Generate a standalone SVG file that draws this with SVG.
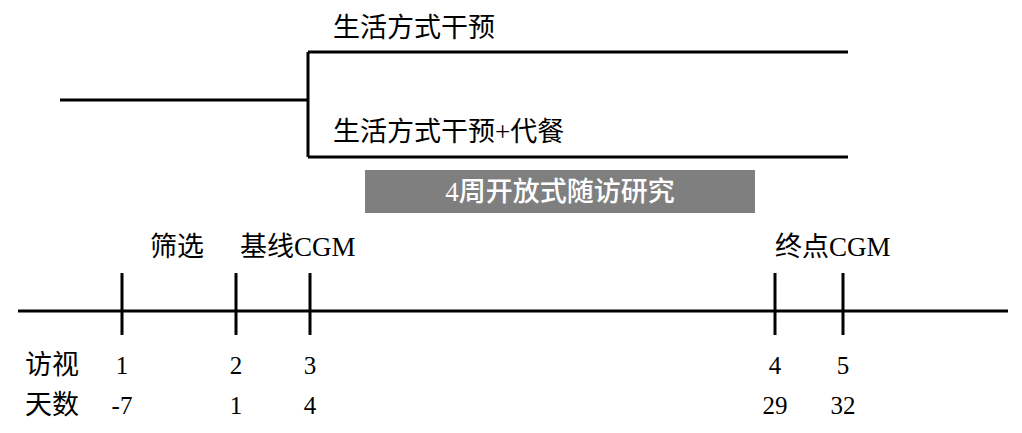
<svg xmlns="http://www.w3.org/2000/svg" width="1022" height="433" viewBox="0 0 1022 433">
<style>
.l{stroke:#000;stroke-width:3;fill:none}
text{font-family:"Liberation Serif","Noto Sans CJK SC",serif;font-size:27px;fill:#000}
.n{font-size:25px}
.m{text-anchor:middle}
</style>
<rect width="1022" height="433" fill="#fff"/>
<g id="connectors">
<path class="l" d="M60 100H308M308 52V157M308 52H848M308 157H848"/>
<path class="l" d="M18 311H1008M122 273V335M236 273V335M310 273V335M775 273V335M843 273V335"/>
</g>
<g id="arm1"><text x="333" y="37">生活方式干预</text></g>
<g id="arm2"><text x="333" y="141">生活方式干预+代餐</text></g>
<g id="followup"><rect x="365" y="170" width="390" height="43" fill="#7f7f7f"/><text x="560" y="201" class="m" style="fill:#fff;font-weight:500">4周开放式随访研究</text></g>
<g id="labels">
<text x="150" y="256">筛选</text>
<text x="240" y="256">基线CGM</text>
<text x="775" y="256">终点CGM</text>
<text x="25" y="374">访视</text>
<text x="25" y="414">天数</text>
<text x="122" y="374" class="m n">1</text>
<text x="236" y="374" class="m n">2</text>
<text x="310" y="374" class="m n">3</text>
<text x="775" y="374" class="m n">4</text>
<text x="843" y="374" class="m n">5</text>
<text x="122" y="414" class="m n">-7</text>
<text x="236" y="414" class="m n">1</text>
<text x="310" y="414" class="m n">4</text>
<text x="775" y="414" class="m n">29</text>
<text x="843" y="414" class="m n">32</text>
</g>
</svg>
